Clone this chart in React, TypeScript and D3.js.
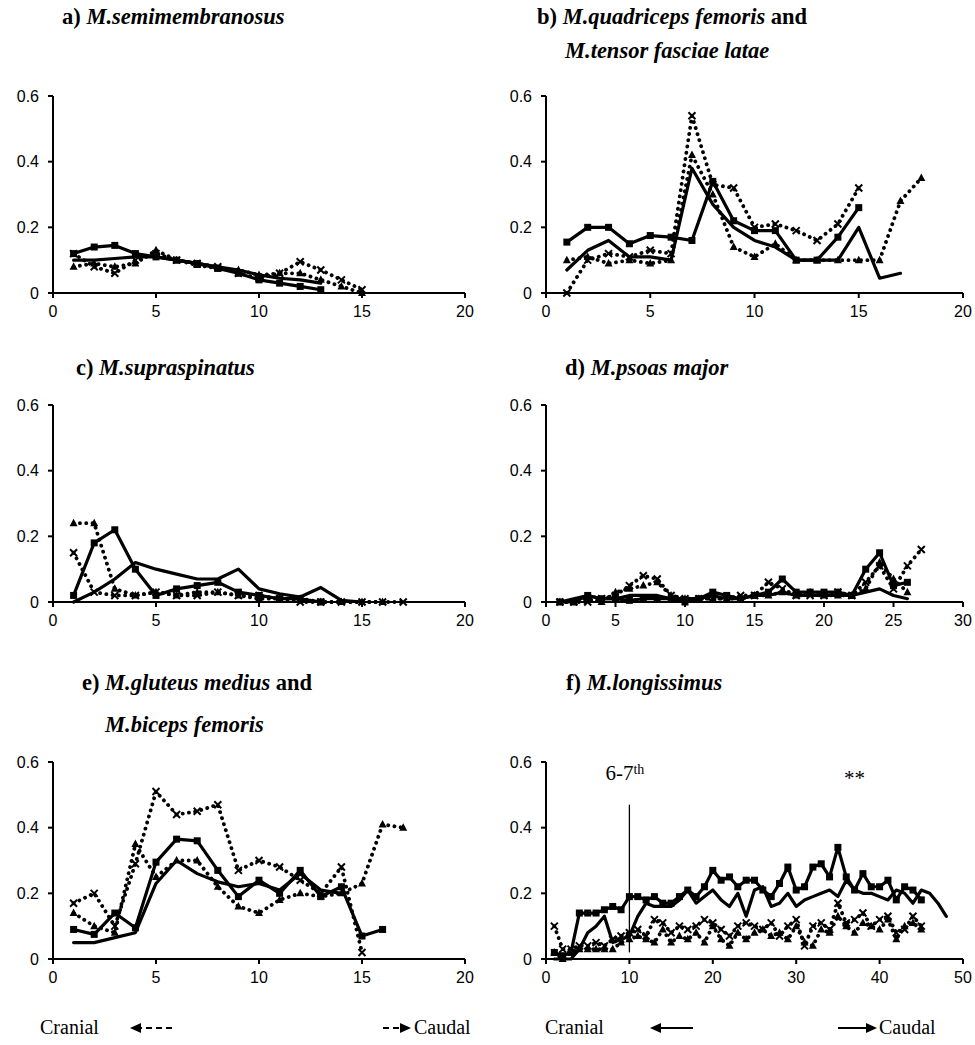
import * as d3 from 'd3';
import React from 'react';

// a) M.semimembranosus
const aSq = [0.12, 0.14, 0.145, 0.12, 0.11, 0.1, 0.09, 0.075, 0.06, 0.04, 0.03, 0.02, 0.01];
const aLn = [0.1, 0.1, 0.105, 0.11, 0.11, 0.1, 0.09, 0.08, 0.07, 0.055, 0.045, 0.04, 0.03];
const aTri = [0.08, 0.09, 0.08, 0.09, 0.13, 0.1, 0.085, 0.075, 0.07, 0.055, 0.06, 0.06, 0.04, 0.02, 0.0];
const aX = [0.12, 0.08, 0.06, 0.1, 0.12, 0.1, 0.09, 0.08, 0.06, 0.045, 0.06, 0.095, 0.07, 0.04, 0.01];

// b) M.quadriceps femoris and M.tensor fasciae latae
const bSq = [0.155, 0.2, 0.2, 0.15, 0.175, 0.17, 0.16, 0.34, 0.22, 0.19, 0.19, 0.1, 0.1, 0.17, 0.26];
const bLn = [0.07, 0.13, 0.16, 0.11, 0.11, 0.1, 0.38, 0.27, 0.2, 0.16, 0.14, 0.1, 0.1, 0.1, 0.2, 0.045, 0.06];
const bTri = [0.1, 0.11, 0.09, 0.1, 0.09, 0.1, 0.42, 0.3, 0.14, 0.11, 0.15, 0.1, 0.1, 0.1, 0.1, 0.1, 0.28, 0.35];
const bX = [0.0, 0.1, 0.12, 0.11, 0.13, 0.12, 0.54, 0.33, 0.32, 0.2, 0.21, 0.19, 0.16, 0.21, 0.32];

// c) M.supraspinatus
const cSq = [0.02, 0.18, 0.22, 0.1, 0.02, 0.04, 0.05, 0.06, 0.03, 0.02, 0.01, 0.01, 0.0];
const cLn = [0.0, 0.03, 0.07, 0.12, 0.1, 0.085, 0.07, 0.07, 0.1, 0.04, 0.025, 0.015, 0.044, 0.005, 0.0];
const cTri = [0.24, 0.24, 0.04, 0.02, 0.03, 0.02, 0.03, 0.03, 0.02, 0.01, 0.01, 0.01, 0.0, 0.0, 0.0, 0.0];
const cX = [0.15, 0.03, 0.02, 0.02, 0.03, 0.02, 0.02, 0.03, 0.02, 0.02, 0.01, 0.0, 0.0, 0.0, 0.0, 0.0, 0.0];

// d) M.psoas major
const dSq = [0.0, 0.0, 0.02, 0.01, 0.01, 0.005, 0.01, 0.01, 0.01, 0.0, 0.01, 0.03, 0.02, 0.01, 0.02, 0.03, 0.07, 0.03, 0.03, 0.03, 0.03, 0.02, 0.1, 0.15, 0.05, 0.06];
const dLn = [0.0, 0.01, 0.02, 0.01, 0.01, 0.02, 0.02, 0.02, 0.01, 0.01, 0.01, 0.02, 0.01, 0.01, 0.02, 0.02, 0.03, 0.02, 0.02, 0.02, 0.02, 0.02, 0.03, 0.04, 0.02, 0.01];
const dTri = [0.0, 0.0, 0.01, 0.0, 0.03, 0.04, 0.05, 0.06, 0.02, 0.01, 0.01, 0.01, 0.01, 0.01, 0.02, 0.02, 0.03, 0.02, 0.03, 0.02, 0.02, 0.02, 0.04, 0.12, 0.07, 0.03];
const dX = [0.0, 0.0, 0.0, 0.01, 0.02, 0.05, 0.08, 0.07, 0.02, 0.01, 0.01, 0.01, 0.01, 0.02, 0.02, 0.06, 0.04, 0.02, 0.02, 0.02, 0.03, 0.02, 0.06, 0.11, 0.04, 0.11, 0.16];

// e) M.gluteus medius and M.biceps femoris
const eSq = [0.09, 0.075, 0.14, 0.095, 0.295, 0.365, 0.36, 0.27, 0.19, 0.24, 0.2, 0.27, 0.19, 0.22, 0.07, 0.09];
const eLn = [0.05, 0.05, 0.065, 0.08, 0.23, 0.3, 0.26, 0.235, 0.22, 0.23, 0.21, 0.26, 0.21, 0.2];
const eTri = [0.14, 0.1, 0.08, 0.35, 0.25, 0.3, 0.3, 0.22, 0.16, 0.14, 0.18, 0.2, 0.19, 0.2, 0.23, 0.41, 0.4];
const eX = [0.17, 0.2, 0.1, 0.29, 0.51, 0.44, 0.45, 0.47, 0.27, 0.3, 0.28, 0.24, 0.2, 0.28, 0.02];

// f) M.longissimus
const fSq = [0.02, 0.01, 0.02, 0.14, 0.14, 0.14, 0.15, 0.16, 0.15, 0.19, 0.19, 0.18, 0.19, 0.17, 0.17, 0.19, 0.21, 0.19, 0.22, 0.27, 0.24, 0.25, 0.22, 0.24, 0.24, 0.21, 0.19, 0.23, 0.28, 0.21, 0.22, 0.28, 0.29, 0.25, 0.34, 0.25, 0.21, 0.26, 0.22, 0.22, 0.24, 0.18, 0.22, 0.21, 0.18];
const fLn = [0.0, 0.0, 0.0, 0.03, 0.08, 0.1, 0.13, 0.05, 0.06, 0.07, 0.13, 0.17, 0.16, 0.16, 0.16, 0.18, 0.21, 0.17, 0.19, 0.21, 0.18, 0.16, 0.2, 0.13, 0.21, 0.22, 0.16, 0.17, 0.2, 0.16, 0.18, 0.19, 0.2, 0.21, 0.19, 0.24, 0.21, 0.2, 0.2, 0.19, 0.18, 0.21, 0.2, 0.17, 0.21, 0.2, 0.17, 0.13];
const fTri = [0.02, 0.0, 0.02, 0.03, 0.03, 0.03, 0.03, 0.03, 0.05, 0.06, 0.07, 0.06, 0.05, 0.09, 0.05, 0.07, 0.06, 0.08, 0.05, 0.1, 0.06, 0.04, 0.08, 0.06, 0.08, 0.09, 0.07, 0.08, 0.06, 0.1, 0.05, 0.04, 0.09, 0.08, 0.13, 0.1, 0.08, 0.11, 0.1, 0.09, 0.12, 0.06, 0.1, 0.11, 0.09];
const fX = [0.1, 0.03, 0.03, 0.04, 0.04, 0.05, 0.04, 0.06, 0.07, 0.08, 0.09, 0.07, 0.12, 0.11, 0.08, 0.1, 0.09, 0.1, 0.12, 0.11, 0.09, 0.07, 0.1, 0.11, 0.1, 0.09, 0.11, 0.07, 0.1, 0.12, 0.04, 0.1, 0.11, 0.09, 0.17, 0.11, 0.12, 0.14, 0.1, 0.12, 0.13, 0.08, 0.09, 0.13, 0.1];

const yTicks = [0, 0.2, 0.4, 0.6];
const xTicks20 = [0, 5, 10, 15, 20];
const xTicks30 = [0, 5, 10, 15, 20, 25, 30];
const xTicks50 = [0, 10, 20, 30, 40, 50];

const cols = [
  { x0: 53, x1: 465 },
  { x0: 546, x1: 963 },
];
const rows = [
  { y0: 293, y1: 96 },
  { y0: 602, y1: 405 },
  { y0: 959, y1: 762 },
];

const panels = [
  { id: 'a', col: 0, row: 0, xMax: 20, xTicks: xTicks20, series: [aSq, aLn, aTri, aX] },
  { id: 'b', col: 1, row: 0, xMax: 20, xTicks: xTicks20, series: [bSq, bLn, bTri, bX] },
  { id: 'c', col: 0, row: 1, xMax: 20, xTicks: xTicks20, series: [cSq, cLn, cTri, cX] },
  { id: 'd', col: 1, row: 1, xMax: 30, xTicks: xTicks30, series: [dSq, dLn, dTri, dX] },
  { id: 'e', col: 0, row: 2, xMax: 20, xTicks: xTicks20, series: [eSq, eLn, eTri, eX] },
  { id: 'f', col: 1, row: 2, xMax: 50, xTicks: xTicks50, series: [fSq, fLn, fTri, fX] },
];

// series styles: solid+square, solid, dotted+triangle, dotted+cross
const styles = [
  { dotted: false, marker: 'square' },
  { dotted: false, marker: 'none' },
  { dotted: true, marker: 'triangle' },
  { dotted: true, marker: 'cross' },
];

const tickFont = "'Liberation Sans', Arial, sans-serif";
const serif = "'Liberation Serif', 'Times New Roman', serif";

const Marker = ({ kind, x, y }: { kind: string; x: number; y: number }) => {
  if (kind === 'square') return <rect x={x - 3.5} y={y - 3.5} width={7} height={7} fill="#000" />;
  if (kind === 'triangle')
    return <path d={`M${x},${y - 4.5}L${x + 4},${y + 3}L${x - 4},${y + 3}Z`} fill="#000" />;
  if (kind === 'cross')
    return (
      <path
        d={`M${x - 3.5},${y - 3.5}L${x + 3.5},${y + 3.5}M${x + 3.5},${y - 3.5}L${x - 3.5},${y + 3.5}`}
        stroke="#000"
        strokeWidth={2}
      />
    );
  return null;
};

const Panel = ({ p }: { p: (typeof panels)[number] }) => {
  const c = cols[p.col];
  const r = rows[p.row];
  const x = d3.scaleLinear().domain([0, p.xMax]).range([c.x0, c.x1]);
  const y = d3.scaleLinear().domain([0, 0.6]).range([r.y0, r.y1]);
  const line = d3
    .line<number>()
    .x((_, i) => x(i + 1))
    .y((d) => y(d));

  return (
    <g>
      {p.series.map((s, si) => (
        <g key={si}>
          <path
            d={line(s) || ''}
            fill="none"
            stroke="#000"
            strokeWidth={styles[si].dotted ? 3.8 : 3.2}
            strokeLinecap="round"
            strokeLinejoin="round"
            strokeDasharray={styles[si].dotted ? '0.1 6.2' : undefined}
          />
          {s.map((v, i) => (
            <Marker key={i} kind={styles[si].marker} x={x(i + 1)} y={y(v)} />
          ))}
        </g>
      ))}
      {p.id === 'f' && (
        <g>
          <line x1={x(10)} x2={x(10)} y1={y(0.47)} y2={y(0.02)} stroke="#000" strokeWidth={1.3} />
          <text x={x(10) - 24} y={y(0.545)} fontFamily={serif} fontSize={21}>
            6-7<tspan fontSize={14} dy={-6}>th</tspan>
          </text>
          <text x={x(37)} y={y(0.53)} fontFamily={serif} fontSize={21} textAnchor="middle">
            **
          </text>
        </g>
      )}
      {/* axes */}
      <line x1={c.x0} x2={c.x0} y1={r.y0} y2={r.y1} stroke="#000" strokeWidth={2} />
      <line x1={c.x0} x2={c.x1} y1={r.y0} y2={r.y0} stroke="#000" strokeWidth={2} />
      {yTicks.map((t) => (
        <g key={'y' + t}>
          <line x1={c.x0 - 5} x2={c.x0} y1={y(t)} y2={y(t)} stroke="#000" strokeWidth={2} />
          <text
            x={c.x0 - 14}
            y={y(t) + 5.5}
            textAnchor="end"
            fontFamily={tickFont}
            fontSize={16}
          >
            {t === 0 ? '0' : d3.format('.1f')(t)}
          </text>
        </g>
      ))}
      {p.xTicks.map((t) => (
        <g key={'x' + t}>
          <line x1={x(t)} x2={x(t)} y1={r.y0} y2={r.y0 + 5} stroke="#000" strokeWidth={2} />
          <text x={x(t)} y={r.y0 + 24} textAnchor="middle" fontFamily={tickFont} fontSize={16}>
            {t}
          </text>
        </g>
      ))}
    </g>
  );
};

const Title = ({ x, y, lead, parts }: { x: number; y: number; lead: string; parts: [string, boolean][] }) => (
  <text x={x} y={y} fontFamily={serif} fontSize={22.5} fontWeight="bold">
    {lead}
    {parts.map(([t, it], i) => (
      <tspan key={i} fontStyle={it ? 'italic' : 'normal'}>
        {t}
      </tspan>
    ))}
  </text>
);

const Arrow = ({ x1, x2, y, dashed }: { x1: number; x2: number; y: number; dashed: boolean }) => {
  const dir = x2 > x1 ? 1 : -1;
  return (
    <g>
      <line
        x1={x1}
        x2={x2 - dir * 6}
        y1={y}
        y2={y}
        stroke="#000"
        strokeWidth={2}
        strokeDasharray={dashed ? '6 4' : undefined}
      />
      <path d={`M${x2},${y}L${x2 - dir * 11},${y - 5}L${x2 - dir * 11},${y + 5}Z`} fill="#000" />
    </g>
  );
};

export default function App() {
  return (
    <svg
      width={975}
      height={1045}
      style={{ position: 'absolute', left: 0, top: 0, display: 'block', background: '#fff' }}
    >
      <rect width={975} height={1045} fill="#fff" />
      <Title x={62} y={24} lead="a) " parts={[['M.semimembranosus', true]]} />
      <Title x={537} y={24} lead="b)  " parts={[['M.quadriceps femoris', true], [' and', false]]} />
      <Title x={565} y={58} lead="" parts={[['M.tensor fasciae latae', true]]} />
      <Title x={76} y={375} lead="c) " parts={[['M.supraspinatus', true]]} />
      <Title x={565} y={375} lead="d) " parts={[['M.psoas major', true]]} />
      <Title x={82} y={690} lead="e) " parts={[['M.gluteus medius', true], [' and', false]]} />
      <Title x={105} y={732} lead="" parts={[['M.biceps femoris', true]]} />
      <Title x={566} y={690} lead="f) " parts={[['M.longissimus', true]]} />

      {panels.map((p) => (
        <Panel key={p.id} p={p} />
      ))}

      <text x={40} y={1034} fontFamily={serif} fontSize={20}>Cranial</text>
      <Arrow x1={172} x2={130} y={1028} dashed={true} />
      <Arrow x1={383} x2={411} y={1028} dashed={true} />
      <text x={414} y={1034} fontFamily={serif} fontSize={20}>Caudal</text>

      <text x={545} y={1034} fontFamily={serif} fontSize={20}>Cranial</text>
      <Arrow x1={693} x2={650} y={1028} dashed={false} />
      <Arrow x1={838} x2={877} y={1028} dashed={false} />
      <text x={879} y={1034} fontFamily={serif} fontSize={20}>Caudal</text>
    </svg>
  );
}
